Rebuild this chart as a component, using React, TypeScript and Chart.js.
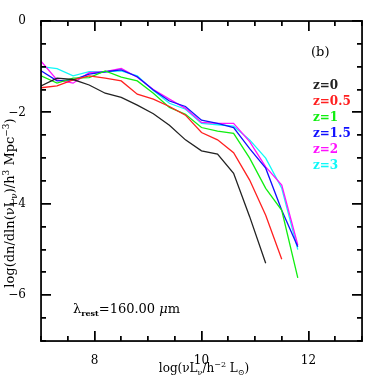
import React, { useEffect, useRef } from "react";
import { Chart, registerables } from "chart.js";

Chart.register(...registerables);

const logL = [7.0, 7.3, 7.6, 7.9, 8.2, 8.5, 8.8, 9.1, 9.4, 9.7, 10.0, 10.3, 10.6, 10.9, 11.2, 11.5, 11.8];

const z0 = [-1.42, -1.25, -1.28, -1.40, -1.58, -1.67, -1.84, -2.03, -2.28, -2.60, -2.84, -2.91, -3.33, -4.28, -5.30];
const z05 = [-1.46, -1.42, -1.29, -1.20, -1.25, -1.31, -1.60, -1.71, -1.87, -2.06, -2.44, -2.60, -2.88, -3.48, -4.25, -5.21];
const z1 = [-1.20, -1.36, -1.25, -1.24, -1.09, -1.23, -1.31, -1.58, -1.89, -2.04, -2.33, -2.41, -2.46, -3.00, -3.66, -4.14, -5.62];
const z15 = [-1.09, -1.31, -1.29, -1.16, -1.11, -1.07, -1.22, -1.51, -1.75, -1.87, -2.17, -2.24, -2.33, -2.79, -3.22, -4.14, -4.94];
const z2 = [-0.88, -1.29, -1.36, -1.13, -1.11, -1.04, -1.23, -1.50, -1.71, -1.91, -2.22, -2.24, -2.24, -2.64, -3.19, -3.59, -4.90];
const z3 = [-1.00, -1.04, -1.20, -1.11, -1.11, -1.09, -1.20, -1.52, -1.80, -1.93, -2.24, -2.27, -2.30, -2.60, -3.00, -3.66, -5.00];

const seriesLabels = ["z=0", "z=0.5", "z=1", "z=1.5", "z=2", "z=3"];
const seriesValues = [z0, z05, z1, z15, z2, z3];
const seriesColors = ["#222222", "#ff2020", "#10ee10", "#1010ff", "#ff10ff", "#10f8f8"];

const xTickLabels = [8, 10, 12];
const yTickLabels = [0, -2, -4, -6];
const xMinorTicks = [7, 7.5, 8, 8.5, 9, 9.5, 10, 10.5, 11, 11.5, 12, 12.5, 13];
const yMinorTicks = [0, -0.5, -1, -1.5, -2, -2.5, -3, -3.5, -4, -4.5, -5, -5.5, -6, -6.5, -7];

const X_MIN = 7;
const X_MAX = 13;
const Y_MIN = -7;
const Y_MAX = 0;

const FONT = '"DejaVu Serif", serif';

type Part = { t: string; dy?: number; size?: number; style?: string };

function richWidth(ctx: CanvasRenderingContext2D, parts: Part[], base: number) {
  let w = 0;
  for (const p of parts) {
    ctx.font = `${p.style ? p.style + " " : ""}${p.size ?? base}px ${FONT}`;
    w += ctx.measureText(p.t).width;
  }
  return w;
}

function drawRich(ctx: CanvasRenderingContext2D, parts: Part[], x: number, y: number, base: number, color: string) {
  let cx = x;
  ctx.fillStyle = color;
  ctx.textBaseline = "alphabetic";
  ctx.textAlign = "left";
  for (const p of parts) {
    ctx.font = `${p.style ? p.style + " " : ""}${p.size ?? base}px ${FONT}`;
    ctx.fillText(p.t, cx, y + (p.dy ?? 0));
    cx += ctx.measureText(p.t).width;
  }
}

function drawTicksAndFrame(chart: any) {
  const ctx: CanvasRenderingContext2D = chart.ctx;
  const a = chart.chartArea;
  const left = Number(a.left);
  const right = Number(a.right);
  const top = Number(a.top);
  const bottom = Number(a.bottom);
  const w = right - left;
  const h = bottom - top;
  ctx.save();
  ctx.globalAlpha = 1;
  ctx.globalCompositeOperation = "source-over";
  ctx.fillStyle = "#000000";
  for (let i = 0; i < xMinorTicks.length; i++) {
    const v = xMinorTicks[i];
    const px = Math.round(left + ((v - X_MIN) / (X_MAX - X_MIN)) * w);
    const len = xTickLabels.indexOf(v) >= 0 ? 10 : 5;
    ctx.fillRect(px - 1, bottom - len, 1.5, len);
    ctx.fillRect(px - 1, top, 1.5, len);
  }
  for (let i = 0; i < yMinorTicks.length; i++) {
    const v = yMinorTicks[i];
    const py = Math.round(bottom - ((v - Y_MIN) / (Y_MAX - Y_MIN)) * h);
    const len = yTickLabels.indexOf(v) >= 0 ? 10 : 5;
    ctx.fillRect(left, py - 1, len, 1.5);
    ctx.fillRect(right - len, py - 1, len, 1.5);
  }
  ctx.fillRect(left - 0.6, top - 0.6, w + 1.2, 1.3);
  ctx.fillRect(left - 0.6, bottom - 0.6, w + 1.2, 1.3);
  ctx.fillRect(left - 0.6, top - 0.6, 1.3, h + 1.2);
  ctx.fillRect(right - 0.6, top - 0.6, 1.3, h + 1.2);
  ctx.restore();
}

const ticksFramePlugin = {
  id: "ticksFrame",
  afterDatasetsDraw(chart: any) {
    drawTicksAndFrame(chart);
  },
  afterDraw(chart: any) {
    const ctx: CanvasRenderingContext2D = chart.ctx;
    drawTicksAndFrame(chart);
    ctx.save();

    // legend
    ctx.textBaseline = "middle";
    ctx.textAlign = "left";
    ctx.font = `13px ${FONT}`;
    ctx.fillStyle = "#000";
    ctx.fillText("(b)", 311, 53);
    seriesLabels.forEach((lab, i) => {
      ctx.fillStyle = seriesColors[i];
      ctx.font = `bold 12px ${FONT}`;
      ctx.fillText(lab, 313, 86 + i * 16);
    });

    // lambda label
    drawRich(
      ctx,
      [
        { t: "λ", size: 13 },
        { t: "rest", size: 8, dy: 3, style: "bold" },
        { t: "=160.00 ", size: 13 },
        { t: "μ", size: 13, style: "italic" },
        { t: "m", size: 13 },
      ],
      73,
      313,
      13,
      "#000"
    );

    // x title
    const xParts: Part[] = [
      { t: "log(νL" },
      { t: "ν", size: 8, dy: 3 },
      { t: "/h" },
      { t: "−2", size: 8, dy: -5 },
      { t: " L" },
      { t: "⊙", size: 8, dy: 3 },
      { t: ")" },
    ];
    const xw = richWidth(ctx, xParts, 12);
    drawRich(ctx, xParts, 204 - xw / 2, 372, 12, "#000");

    // y title
    const yParts: Part[] = [
      { t: "log(dn/dln(νL" },
      { t: "ν", size: 9, dy: 3 },
      { t: ")/h" },
      { t: "3", size: 9, dy: -5 },
      { t: " Mpc" },
      { t: "−3", size: 9, dy: -5 },
      { t: ")" },
    ];
    const yw = richWidth(ctx, yParts, 13);
    ctx.translate(14, 203);
    ctx.rotate(-Math.PI / 2);
    drawRich(ctx, yParts, -yw / 2, 0, 13, "#000");
    ctx.restore();
  },
};

export default function App() {
  const ref = useRef<HTMLCanvasElement | null>(null);
  useEffect(() => {
    document.body.style.margin = "0";
    const chart = new Chart(ref.current!, {
      type: "line",
      data: {
        datasets: seriesValues.map((vals, i) => ({
          label: seriesLabels[i],
          data: vals.map((v, j) => ({ x: logL[j], y: v })),
          borderColor: seriesColors[i],
          borderWidth: 1.3,
          pointRadius: 0,
          tension: 0,
          fill: false,
        })),
      },
      options: {
        responsive: false,
        animation: false,
        devicePixelRatio: 1,
        layout: { padding: { top: 21, right: 20 } },
        plugins: { legend: { display: false }, tooltip: { enabled: false } },
        scales: {
          x: {
            type: "linear",
            min: X_MIN,
            max: X_MAX,
            grid: { display: false },
            border: { display: false },
            afterFit: (s: any) => {
              s.height = 41;
            },
            afterBuildTicks: (s: any) => {
              s.ticks = xTickLabels.map((v) => ({ value: v }));
            },
            ticks: {
              autoSkip: false,
              maxRotation: 0,
              padding: 5,
              color: "#000",
              font: { family: FONT, size: 12 },
              callback: (v: any) => String(v),
            },
          },
          y: {
            type: "linear",
            min: Y_MIN,
            max: Y_MAX,
            grid: { display: false },
            border: { display: false },
            afterFit: (s: any) => {
              s.width = 41;
            },
            afterBuildTicks: (s: any) => {
              s.ticks = yTickLabels.map((v) => ({ value: v }));
            },
            ticks: {
              autoSkip: false,
              padding: 7,
              color: "#000",
              font: { family: FONT, size: 12 },
              callback: (v: any) => (v < 0 ? "−" + String(-v) : String(v)),
            },
          },
        },
      },
      plugins: [ticksFramePlugin],
    });
    return () => chart.destroy();
  }, []);
  return (
    <div style={{ position: "absolute", left: 0, top: 0 }}>
      <canvas ref={ref} width={382} height={382} />
    </div>
  );
}
